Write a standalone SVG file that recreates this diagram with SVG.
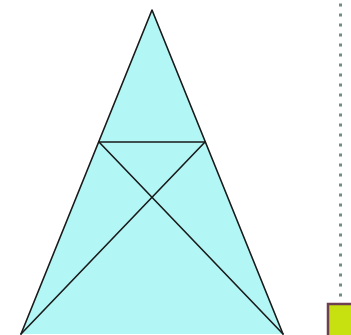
<svg xmlns="http://www.w3.org/2000/svg" width="351" height="335" viewBox="0 0 351 335">
<style>
.ln{stroke:#1a1a1a;stroke-width:1.6;fill:none;stroke-linecap:round;stroke-linejoin:round}
</style>
<rect width="351" height="335" fill="#ffffff"/>
<g id="triangle">
<polygon points="152,10 21,334 283,334" fill="#b2f6f6"/>
<polyline class="ln" points="21,334 152,10 283,334"/>
</g>
<g id="connectors">
<line class="ln" x1="99" y1="142" x2="205" y2="142"/>
<line class="ln" x1="99" y1="142" x2="283" y2="334"/>
<line class="ln" x1="205" y1="142" x2="21" y2="334"/>
</g>
<g id="dotted">
<line x1="340.5" y1="3.5" x2="340.5" y2="302" stroke="#6f8f86" stroke-width="3" stroke-dasharray="3 7"/>
</g>
<g id="square">
<rect x="328" y="304" width="26" height="35" fill="#c6e010" stroke="#6e3f50" stroke-width="2.5"/>
</g>
</svg>
